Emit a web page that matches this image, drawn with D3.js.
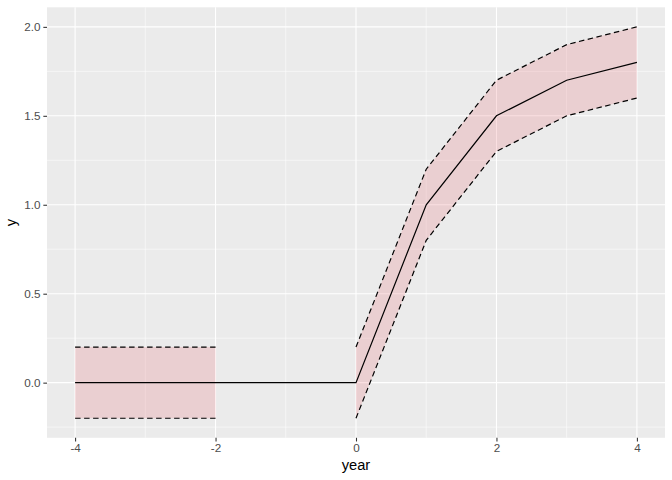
<!DOCTYPE html>
<html>
<head>
<meta charset="utf-8">
<script src="https://cdn.jsdelivr.net/npm/d3@7"></script>
<style>
  body { margin: 0; background: #fff; }
  svg { display: block; font-family: "Liberation Sans", Arial, Helvetica, sans-serif; }
</style>
</head>
<body>
<svg id="chart" width="672" height="480"></svg>
<script>
// ---- data ----
const years = [-4, -3, -2, -1, 0, 1, 2, 3, 4];
const estimate = [0, 0, 0, 0, 0, 1.0, 1.5, 1.7, 1.8];
const lower = [-0.2, -0.2, -0.2, null, -0.2, 0.8, 1.3, 1.5, 1.6];
const upper = [0.2, 0.2, 0.2, null, 0.2, 1.2, 1.7, 1.9, 2.0];
const xTicks = [-4, -2, 0, 2, 4];
const xMinor = [-3, -1, 1, 3];
const yTicks = [0, 0.5, 1.0, 1.5, 2.0];
const yMinor = [-0.25, 0.25, 0.75, 1.25, 1.75];

const rows = years.map((y, i) => ({ x: y, est: estimate[i], lo: lower[i], hi: upper[i] }));

// ---- layout ----
const svg = d3.select("#chart");
const panel = { left: 47, right: 665, top: 7.3, bottom: 437.8 };

const x = d3.scaleLinear().domain([-4.4, 4.4]).range([panel.left, panel.right]);
const y = d3.scaleLinear().domain([-0.31, 2.11]).range([panel.bottom, panel.top]);

// panel background
svg.append("rect")
  .attr("x", panel.left).attr("y", panel.top)
  .attr("width", panel.right - panel.left).attr("height", panel.bottom - panel.top)
  .attr("fill", "#ebebeb");

const grid = svg.append("g");
// minor grid
grid.selectAll(".mx").data(xMinor).join("line")
  .attr("class", "mx")
  .attr("x1", d => x(d)).attr("x2", d => x(d))
  .attr("y1", panel.top).attr("y2", panel.bottom)
  .attr("stroke", "#fff").attr("stroke-width", 0.53);
grid.selectAll(".my").data(yMinor).join("line")
  .attr("class", "my")
  .attr("y1", d => y(d)).attr("y2", d => y(d))
  .attr("x1", panel.left).attr("x2", panel.right)
  .attr("stroke", "#fff").attr("stroke-width", 0.53);
// major grid
grid.selectAll(".Mx").data(xTicks).join("line")
  .attr("class", "Mx")
  .attr("x1", d => x(d)).attr("x2", d => x(d))
  .attr("y1", panel.top).attr("y2", panel.bottom)
  .attr("stroke", "#fff").attr("stroke-width", 1.07);
grid.selectAll(".My").data(yTicks).join("line")
  .attr("class", "My")
  .attr("y1", d => y(d)).attr("y2", d => y(d))
  .attr("x1", panel.left).attr("x2", panel.right)
  .attr("stroke", "#fff").attr("stroke-width", 1.07);

// ribbon
const area = d3.area()
  .defined(d => d.lo !== null && d.hi !== null)
  .x(d => x(d.x)).y0(d => y(d.lo)).y1(d => y(d.hi));
svg.append("path").datum(rows)
  .attr("d", area)
  .attr("fill", "rgb(228,95,105)").attr("fill-opacity", 0.2);

// dashed bounds
const loLine = d3.line().defined(d => d.lo !== null).x(d => x(d.x)).y(d => y(d.lo));
const hiLine = d3.line().defined(d => d.hi !== null).x(d => x(d.x)).y(d => y(d.hi));
[loLine, hiLine].forEach(gen => {
  svg.append("path").datum(rows)
    .attr("d", gen)
    .attr("fill", "none").attr("stroke", "#000")
    .attr("stroke-width", 1.2).attr("stroke-dasharray", "5.5,3.5");
});

// estimate line
svg.append("path").datum(rows)
  .attr("d", d3.line().x(d => x(d.x)).y(d => y(d.est)))
  .attr("fill", "none").attr("stroke", "#000").attr("stroke-width", 1.2);

// axes (ASCII hyphen-minus, like R)
const fmtX = d => String(d);
const fmtY = d => d.toFixed(1);
const xAxis = d3.axisBottom(x).tickValues(xTicks).tickFormat(fmtX)
  .tickSize(3.67).tickPadding(2.5);
const gx = svg.append("g").attr("transform", `translate(0,${panel.bottom})`).call(xAxis);
gx.select(".domain").remove();
gx.selectAll(".tick line").attr("stroke", "#333").attr("stroke-width", 1.07);
gx.selectAll(".tick text").attr("fill", "#4d4d4d").attr("font-size", 11.7)
  .attr("font-family", "Liberation Sans, Arial, sans-serif");

const yAxis = d3.axisLeft(y).tickValues(yTicks).tickFormat(fmtY)
  .tickSize(3.67).tickPadding(2.9);
const gy = svg.append("g").attr("transform", `translate(${panel.left},0)`).call(yAxis);
gy.select(".domain").remove();
gy.selectAll(".tick line").attr("stroke", "#333").attr("stroke-width", 1.07);
gy.selectAll(".tick text").attr("fill", "#4d4d4d").attr("font-size", 11.7)
  .attr("font-family", "Liberation Sans, Arial, sans-serif");

// axis titles
svg.append("text")
  .attr("x", (panel.left + panel.right) / 2).attr("y", 470)
  .attr("text-anchor", "middle").attr("font-size", 14.67).attr("fill", "#000")
  .text("year");
svg.append("text")
  .attr("transform", `translate(15.5,${(panel.top + panel.bottom) / 2}) rotate(-90)`)
  .attr("text-anchor", "middle").attr("font-size", 14.67).attr("fill", "#000")
  .text("y");
</script>
</body>
</html>
